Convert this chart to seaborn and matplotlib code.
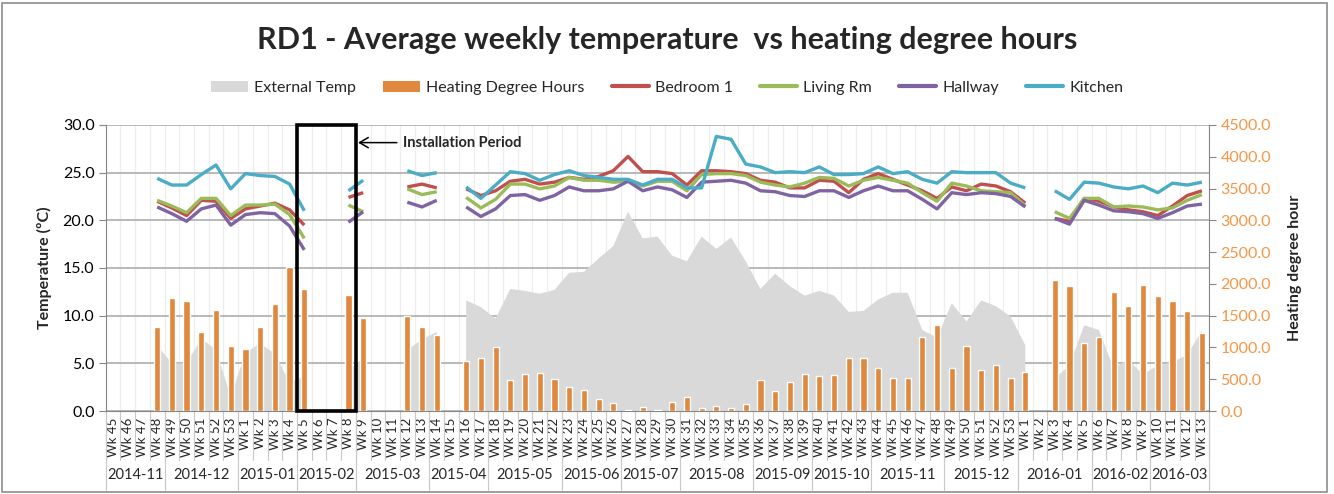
import numpy as np
import pandas as pd
import matplotlib
matplotlib.use("Agg")
import matplotlib.pyplot as plt
import matplotlib.transforms as mtransforms
from matplotlib.patches import Patch, Rectangle
from matplotlib.lines import Line2D
import seaborn as sns

sns.set_style("white")
plt.rcParams["font.family"] = ["Lato", "DejaVu Sans"]

nan = np.nan

# category axis: week labels grouped by month
months = ["2014-11", "2014-12", "2015-01", "2015-02", "2015-03", "2015-04", "2015-05",
          "2015-06", "2015-07", "2015-08", "2015-09", "2015-10", "2015-11", "2015-12",
          "2016-01", "2016-02", "2016-03"]
month_weeks = [[45, 46, 47, 48], [49, 50, 51, 52, 53], [1, 2, 3, 4], [5, 6, 7, 8],
               [9, 10, 11, 12, 13], [14, 15, 16, 17], [18, 19, 20, 21, 22],
               [23, 24, 25, 26], [27, 28, 29, 30], [31, 32, 33, 34, 35],
               [36, 37, 38, 39], [40, 41, 42, 43], [44, 45, 46, 47, 48],
               [49, 50, 51, 52, 53], [1, 2, 3, 4, 5], [6, 7, 8, 9], [10, 11, 12, 13]]
week_labels = ["Wk %d" % w for grp in month_weeks for w in grp]

external_temp = [nan, nan, nan, 6.9, 5.0, 5.0, 7.6, 6.4, 1.5, 6.1, 7.1, 6.0, 3.0, 3.6,
                 nan, nan, 4.2, 5.6, nan, nan, 6.4, 7.5, 8.3, nan,
                 11.6, 10.9, 9.7, 12.8, 12.6, 12.3, 12.7, 14.5, 14.6, 16.0, 17.3, 20.9,
                 18.1, 18.3, 16.3, 15.7, 18.3, 17.0, 18.2, 15.7, 12.8, 14.4, 13.1, 12.1,
                 12.6, 12.1, 10.4, 10.5, 11.7, 12.4, 12.4, 8.5, 7.7, 11.3, 9.4, 11.6,
                 11.0, 9.9, 6.9, nan, 3.4, 4.8, 9.0, 8.5, 4.5, 5.4, 3.8, 4.8, 5.1, 5.9, 8.4]

heating_dh = [nan, nan, nan, 1323, 1780, 1738, 1240, 1586, 1029, 972, 1323, 1686, 2269, 1917,
              nan, nan, 1823, 1460, nan, nan, 1497, 1323, 1197, nan,
              783, 835, 1003, 488, 583, 599, 504, 378, 336, 184, 126, 16,
              63, 16, 142, 215, 47, 79, 47, 115, 488, 320, 457, 583,
              557, 572, 835, 835, 672, 520, 520, 1166, 1350, 683, 1019, 641,
              725, 520, 614, nan, 2059, 1964, 1071, 1166, 1875, 1654, 1975, 1807, 1738, 1570, 1224]

bedroom = [nan, nan, nan, 22.0, 21.3, 20.5, 22.1, 22.0, 20.2, 21.2, 21.5, 21.8, 21.1, 19.5,
           nan, nan, 22.4, 22.9, nan, nan, 23.5, 23.8, 23.4, nan,
           23.3, 22.6, 23.1, 24.1, 24.3, 23.8, 24.0, 24.5, 24.3, 24.6, 25.2, 26.7,
           25.1, 25.1, 24.9, 23.7, 25.2, 25.2, 25.1, 24.9, 24.2, 24.0, 23.4, 23.4,
           24.2, 24.1, 22.9, 24.3, 24.9, 24.3, 23.7, 23.1, 22.3, 23.5, 23.1, 23.8,
           23.6, 23.0, 21.8, nan, 20.2, 19.9, 22.3, 22.0, 21.4, 21.1, 20.9, 20.5, 21.5, 22.6, 23.1]

living = [nan, nan, nan, 22.1, 21.5, 20.8, 22.3, 22.3, 20.5, 21.6, 21.6, 21.7, 20.6, 18.1,
          nan, nan, 21.6, 20.9, nan, nan, 23.3, 22.7, 23.0, nan,
          22.4, 21.3, 22.2, 23.8, 23.8, 23.3, 23.6, 24.5, 24.2, 24.2, 24.0, 24.1,
          23.6, 24.1, 24.1, 23.1, 24.8, 24.9, 24.9, 24.7, 24.0, 23.7, 23.5, 23.9,
          24.5, 24.4, 23.6, 24.2, 24.5, 24.2, 23.9, 22.9, 22.0, 23.9, 23.6, 23.1,
          23.0, 22.9, 21.5, nan, 20.9, 20.2, 22.3, 22.3, 21.4, 21.5, 21.4, 21.1, 21.3, 22.1, 22.7]

hallway = [nan, nan, nan, 21.4, 20.7, 19.9, 21.2, 21.6, 19.5, 20.6, 20.8, 20.7, 19.4, 16.9,
           nan, nan, 19.8, 20.9, nan, nan, 21.9, 21.4, 22.1, nan,
           21.4, 20.4, 21.2, 22.6, 22.7, 22.1, 22.6, 23.5, 23.1, 23.1, 23.3, 24.1,
           23.1, 23.5, 23.2, 22.4, 24.0, 24.1, 24.2, 23.9, 23.1, 23.0, 22.6, 22.5,
           23.1, 23.1, 22.4, 23.1, 23.6, 23.1, 23.1, 22.2, 21.2, 22.9, 22.7, 22.9,
           22.8, 22.5, 21.4, nan, 20.2, 19.6, 22.1, 21.6, 21.0, 20.9, 20.7, 20.2, 20.8, 21.5, 21.7]

kitchen = [nan, nan, nan, 24.4, 23.7, 23.7, 24.8, 25.8, 23.3, 24.9, 24.7, 24.6, 23.8, 21.0,
           nan, nan, 23.1, 24.2, nan, nan, 25.2, 24.7, 25.0, nan,
           23.5, 22.3, 23.7, 25.1, 24.9, 24.2, 24.8, 25.2, 24.7, 24.5, 24.3, 24.3,
           23.7, 24.3, 24.3, 23.4, 23.4, 28.8, 28.5, 25.9, 25.6, 25.0, 25.1, 25.0,
           25.6, 24.8, 24.8, 24.9, 25.6, 24.9, 25.1, 24.3, 23.9, 25.1, 25.0, 25.0,
           25.0, 23.9, 23.4, nan, 23.1, 22.2, 24.0, 23.9, 23.5, 23.3, 23.6, 22.9, 23.9, 23.7, 24.0]

rooms = {"Bedroom 1": (bedroom, "#C0504D"),
         "Living Rm": (living, "#9BBB59"),
         "Hallway": (hallway, "#8064A2"),
         "Kitchen": (kitchen, "#4BACC6")}

AREA_COL = "#D9D9D9"
BAR_COL = "#E0883E"
TICK_ORANGE = "#F79646"
AXIS_GREY = "#868686"

n = len(week_labels)
x = np.arange(n)
df = pd.DataFrame({"pos": x, "hdh": heating_dh})

fig = plt.figure(figsize=(13.34, 4.94), dpi=100)
ax = fig.add_axes([0.0792, 0.168, 0.8273, 0.579])
ax2 = ax.twinx()

# external temperature as area (left axis)
ax.fill_between(x, 0, np.array(external_temp, dtype=float), color=AREA_COL, lw=0, zorder=2)

# room temperatures
for name, (vals, col) in rooms.items():
    ax.plot(x, vals, color=col, lw=2.4, zorder=4, solid_capstyle="butt")

# heating degree hours as bars (right axis)
bars = df.dropna()
sns.barplot(data=bars, x="pos", y="hdh", native_scale=True, width=0.42, color=BAR_COL,
            saturation=1, errorbar=None, ax=ax2, zorder=3)

ax.set_xlim(-0.5, n - 0.5)
ax2.set_xlim(-0.5, n - 0.5)
ax.set_ylim(0, 30)
ax2.set_ylim(0, 4500)
ax.set_yticks(np.arange(0, 31, 5))
ax.set_yticklabels(["%.1f" % v for v in np.arange(0, 31, 5)])
ax2.set_yticks(np.arange(0, 4501, 500))
ax2.set_yticklabels(["%.1f" % v for v in np.arange(0, 4501, 500)])

# grids
ax.set_axisbelow(True)
ax.yaxis.grid(True, color="#A6A6A6", lw=1.1)
ax.set_xticks(np.arange(-0.5, n, 1), minor=True)
ax.xaxis.grid(True, which="minor", color="#EDEDED", lw=0.9)
ax.xaxis.grid(False, which="major")
ax2.grid(False)

# x tick labels (weeks)
ax.set_xticks(x)
ax.set_xticklabels(week_labels, rotation=90, fontsize=9.5)
ax.tick_params(axis="x", which="both", length=0, pad=5)
ax2.set_xlabel("")
ax2.tick_params(axis="x", which="both", length=0, labelbottom=False)

ax.tick_params(axis="y", length=5, color=AXIS_GREY, labelsize=11.5, labelcolor="black", pad=3)
ax2.tick_params(axis="y", length=5, color=AXIS_GREY, labelsize=11.5, labelcolor=TICK_ORANGE, pad=3)

for side in ["top", "right"]:
    ax.spines[side].set_visible(False)
for side in ["top", "left", "bottom"]:
    ax2.spines[side].set_visible(False)
ax.spines["left"].set_color(AXIS_GREY)
ax.spines["bottom"].set_color(AXIS_GREY)
ax2.spines["right"].set_color(AXIS_GREY)

ax.set_ylabel("Temperature (ºC)", fontsize=11.5, fontweight="bold", labelpad=8)
ax2.set_ylabel("Heating degree hour", fontsize=11.5, fontweight="bold", labelpad=12, rotation=90)

# multi-level category separators and month labels
trans = mtransforms.blended_transform_factory(ax.transData, ax.transAxes)
for b in np.arange(-0.5, n, 1):
    ax.plot([b, b], [0, -0.171], transform=trans, color="#C8C8C8", lw=0.8, clip_on=False)
edges = np.concatenate([[0], np.cumsum([len(g) for g in month_weeks])]) - 0.5
for b in edges:
    ax.plot([b, b], [0, -0.276], transform=trans, color="#C8C8C8", lw=0.8, clip_on=False)
for m, lo, hi in zip(months, edges[:-1], edges[1:]):
    ax.text((lo + hi) / 2, -0.224, m, transform=trans, ha="center", va="center", fontsize=10.5)

# installation period box and note
ax2.add_patch(Rectangle((12.5, 0), 4, 4500, fill=False, ec="black", lw=2.6, zorder=10,
                        clip_on=False))
ax2.annotate("Installation Period", xy=(16.65, 28.15 * 150), xytext=(19.7, 28.15 * 150),
             ha="left", va="center", fontsize=10.5, fontweight="bold", zorder=11,
             arrowprops=dict(arrowstyle="->,head_length=0.6,head_width=0.35", color="black",
                             lw=1.1, shrinkA=2, shrinkB=0))

# legend
handles = [Patch(facecolor=AREA_COL, edgecolor="none"), Patch(facecolor=BAR_COL, edgecolor="none")]
handles += [Line2D([], [], color=col, lw=3) for _, (vals, col) in rooms.items()]
labels = ["External Temp", "Heating Degree Hours"] + list(rooms.keys())
fig.legend(handles, labels, loc="center", bbox_to_anchor=(0.5, 0.822), ncol=6, frameon=False,
           fontsize=11.5, handlelength=2.3, handletextpad=0.4, columnspacing=1.7)

fig.text(0.5, 1 - 40 / 494, "RD1 - Average weekly temperature  vs heating degree hours",
         ha="center", va="center", fontsize=22, fontweight="bold")

fig.add_artist(Rectangle((0.0015, 0.004), 0.993, 0.99, transform=fig.transFigure, fill=False,
                         ec="#8C8C8C", lw=1.2))

fig.savefig("out.png", dpi=100)
plt.close(fig)
